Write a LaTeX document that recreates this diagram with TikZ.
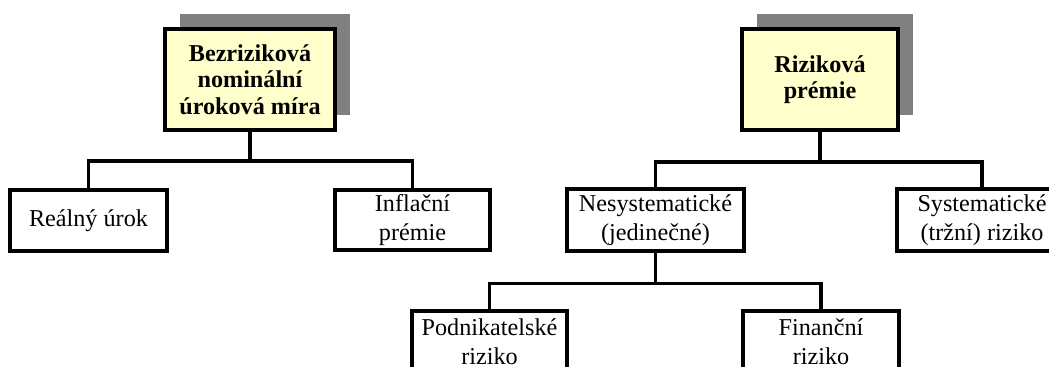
\documentclass[tikz,border=0pt]{standalone}
\usepackage{fontspec}
\setmainfont{Liberation Serif}
\usepackage{xcolor}
\usetikzlibrary{shadows}
\definecolor{RPYellow}{HTML}{FFFFCC}
\definecolor{RPShadow}{HTML}{808080}

\begin{document}
\begin{tikzpicture}[x=1cm,y=1cm,
  headbox/.style={draw,line width=2.9pt,fill=RPYellow,align=center,inner sep=0pt,
    font=\fontsize{17.2}{18.7}\selectfont\bfseries,
    drop shadow={shadow xshift=0.375cm,shadow yshift=0.375cm,fill=RPShadow,opacity=1}},
  itembox/.style={draw,line width=2.2pt,fill=white,align=center,inner sep=0pt,
    font=\fontsize{17.2}{20.6}\selectfont},
  link/.style={line width=2.2pt}]
\useasboundingbox (0,0) rectangle (26.225,9.175);
\clip (0,0) rectangle (26.225,9.175);
\node[headbox,minimum width=4.25cm,minimum height=2.525cm] (bezriz) at (6.25,7.1875) {Bezriziková\\nominální\\úroková míra};
\node[headbox,minimum width=3.9cm,minimum height=2.525cm] (rizprem) at (20.5,7.1875) {Riziková\\prémie};
\node[itembox,minimum width=3.925cm,minimum height=1.525cm] (realny) at (2.2125,3.6625) {Reálný úrok};
\node[itembox,minimum width=3.875cm,minimum height=1.5cm] (inflac) at (10.3125,3.675) {Inflační\\prémie};
\node[itembox,minimum width=4.425cm,minimum height=1.55cm] (nesyst) at (16.3875,3.675) {Nesystematické\\(jedinečné)};
\node[itembox,minimum width=4.25cm,minimum height=1.55cm] (syst) at (24.55,3.675) {Systematické\\(tržní) riziko};
\node[itembox,minimum width=3.875cm,minimum height=1.525cm] (podnik) at (12.2375,0.6375) {Podnikatelské\\riziko};
\node[itembox,minimum width=3.9cm,minimum height=1.525cm] (financ) at (20.525,0.6375) {Finanční\\riziko};
\draw[link] (bezriz.south) -- ++(0,-0.725) -| (realny.north);
\draw[link] (bezriz.south) -- ++(0,-0.725) -| (inflac.north);
\draw[link] (rizprem.south) -- ++(0,-0.75) -| (nesyst.north);
\draw[link] (rizprem.south) -- ++(0,-0.75) -| (syst.north);
\draw[link] (nesyst.south) -- ++(0,-0.775) -| (podnik.north);
\draw[link] (nesyst.south) -- ++(0,-0.775) -| (financ.north);
\end{tikzpicture}
\end{document}
